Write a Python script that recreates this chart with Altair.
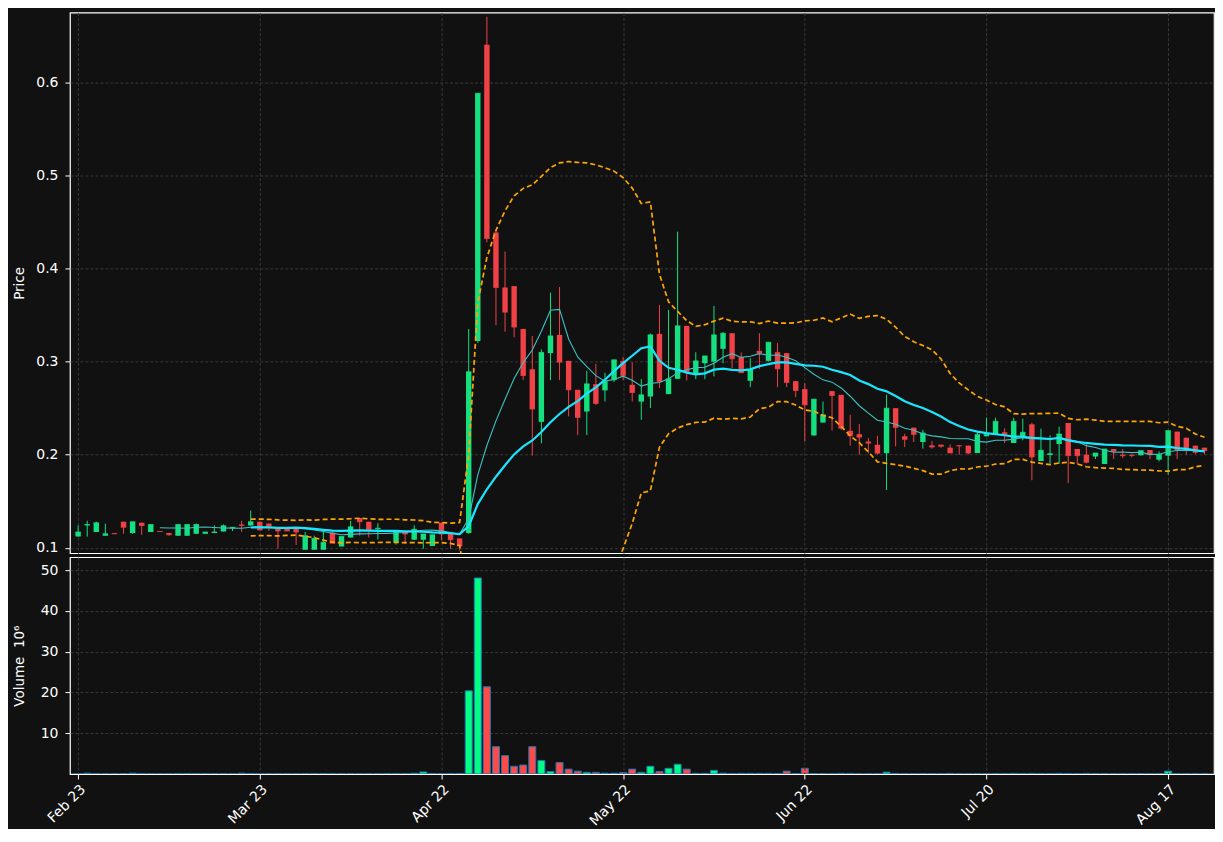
import altair as alt
import pandas as pd

# ---- data (price in $, volume in millions) ----
opens = [0.112, 0.124, 0.117, 0.113, 0.116, 0.128, 0.116, 0.127, 0.117, 0.118,
         0.116, 0.113, 0.113, 0.115, 0.115, 0.116, 0.1175, 0.121, 0.125, 0.124,
         0.128, 0.126, 0.121, 0.121, 0.121, 0.098, 0.098, 0.098, 0.1165, 0.1015,
         0.111, 0.132, 0.128, 0.120, 0.1175, 0.1057, 0.1175, 0.1086, 0.1086, 0.102,
         0.127, 0.1147, 0.110, 0.116, 0.322, 0.640, 0.4386, 0.3795, 0.381, 0.335,
         0.2917, 0.2352, 0.309, 0.3286, 0.3007, 0.2696, 0.2463, 0.2757, 0.269, 0.280,
         0.3007, 0.275, 0.257, 0.2624, 0.3297, 0.265, 0.2814, 0.3383, 0.2868, 0.2982,
         0.300, 0.3136, 0.3304, 0.3047, 0.2793, 0.3115, 0.3007, 0.310, 0.309, 0.2789,
         0.2703, 0.2206, 0.2345, 0.2682, 0.2642, 0.2256, 0.222, 0.2141, 0.2106, 0.2016,
         0.2499, 0.2197, 0.229, 0.2136, 0.210, 0.2107, 0.2075, 0.210, 0.2097, 0.2018,
         0.2197, 0.2218, 0.224, 0.2125, 0.219, 0.2326, 0.1932, 0.1996, 0.2114, 0.234,
         0.2061, 0.200, 0.1979, 0.190, 0.2061, 0.200, 0.200, 0.1993, 0.205, 0.1946,
         0.1989, 0.2247, 0.2182, 0.2097, 0.2075]
highs = [0.124, 0.129, 0.128, 0.126, 0.116, 0.128, 0.128, 0.127, 0.125, 0.118,
         0.116, 0.125, 0.125, 0.126, 0.117, 0.124, 0.125, 0.122, 0.129, 0.140,
         0.128, 0.126, 0.121, 0.121, 0.121, 0.117, 0.113, 0.119, 0.118, 0.112,
         0.129, 0.132, 0.128, 0.1265, 0.118, 0.118, 0.1175, 0.124, 0.1147, 0.114,
         0.127, 0.1147, 0.110, 0.335, 0.588, 0.670, 0.440, 0.418, 0.381, 0.335,
         0.3275, 0.313, 0.374, 0.380, 0.3007, 0.2696, 0.290, 0.2975, 0.288, 0.302,
         0.305, 0.299, 0.281, 0.330, 0.3608, 0.3555, 0.4395, 0.3383, 0.310, 0.306,
         0.3597, 0.3315, 0.3304, 0.3097, 0.3036, 0.3304, 0.3207, 0.3197, 0.309, 0.2789,
         0.2767, 0.2596, 0.257, 0.2682, 0.2642, 0.2428, 0.233, 0.2177, 0.2202, 0.2642,
         0.2499, 0.2225, 0.229, 0.2268, 0.2147, 0.2107, 0.211, 0.210, 0.2097, 0.2254,
         0.2397, 0.2397, 0.2283, 0.2397, 0.2386, 0.2343, 0.2279, 0.2208, 0.2301, 0.234,
         0.2061, 0.2114, 0.2018, 0.2061, 0.2061, 0.2061, 0.200, 0.2043, 0.205, 0.2036,
         0.2258, 0.2247, 0.2182, 0.2097, 0.2075]
lows = [0.112, 0.112, 0.117, 0.113, 0.115, 0.115, 0.115, 0.114, 0.117, 0.1175,
        0.113, 0.113, 0.113, 0.115, 0.115, 0.116, 0.1175, 0.118, 0.117, 0.124,
        0.119, 0.118, 0.099, 0.118, 0.103, 0.098, 0.098, 0.098, 0.105, 0.1015,
        0.111, 0.113, 0.111, 0.109, 0.117, 0.1035, 0.104, 0.1086, 0.099, 0.102,
        0.108, 0.099, 0.097, 0.115, 0.320, 0.428, 0.339, 0.332, 0.326, 0.280,
        0.199, 0.212, 0.280, 0.280, 0.241, 0.221, 0.221, 0.2535, 0.257, 0.278,
        0.280, 0.257, 0.2374, 0.250, 0.2714, 0.265, 0.2814, 0.2796, 0.281, 0.281,
        0.284, 0.298, 0.293, 0.288, 0.2725, 0.2918, 0.300, 0.2725, 0.2725, 0.2617,
        0.2141, 0.2206, 0.2345, 0.2259, 0.2267, 0.2095, 0.200, 0.2016, 0.200, 0.162,
        0.2088, 0.2082, 0.2136, 0.2064, 0.2064, 0.2075, 0.2018, 0.200, 0.200, 0.2018,
        0.2197, 0.2218, 0.2125, 0.2125, 0.2154, 0.1725, 0.1932, 0.1903, 0.190, 0.1696,
        0.190, 0.1907, 0.1953, 0.190, 0.1953, 0.1964, 0.1971, 0.1993, 0.1953, 0.1928,
        0.1785, 0.1953, 0.200, 0.2007, 0.200]
closes = [0.117, 0.125, 0.127, 0.115, 0.115, 0.122, 0.128, 0.124, 0.125, 0.1175,
          0.114, 0.125, 0.125, 0.125, 0.117, 0.117, 0.1236, 0.122, 0.124, 0.128,
          0.119, 0.1225, 0.118, 0.118, 0.117, 0.113, 0.110, 0.106, 0.105, 0.112,
          0.1225, 0.128, 0.119, 0.121, 0.1178, 0.118, 0.1147, 0.120, 0.1147, 0.114,
          0.1147, 0.1086, 0.102, 0.289, 0.588, 0.432, 0.3795, 0.353, 0.337, 0.285,
          0.249, 0.3098, 0.3275, 0.2993, 0.2696, 0.240, 0.276, 0.255, 0.2785, 0.3018,
          0.285, 0.2667, 0.2642, 0.3286, 0.2785, 0.2814, 0.3383, 0.2893, 0.3007, 0.306,
          0.3286, 0.3304, 0.3029, 0.288, 0.291, 0.309, 0.3207, 0.2921, 0.2775, 0.2689,
          0.2535, 0.2596, 0.2428, 0.2635, 0.2284, 0.2202, 0.2188, 0.2123, 0.2016, 0.2499,
          0.2292, 0.2165, 0.2218, 0.2233, 0.2082, 0.209, 0.2018, 0.2093, 0.2018, 0.2215,
          0.2218, 0.2358, 0.2218, 0.2358, 0.224, 0.1975, 0.2047, 0.201, 0.2222, 0.1989,
          0.1989, 0.1918, 0.2018, 0.2061, 0.2036, 0.1989, 0.199, 0.2043, 0.200, 0.200,
          0.2258, 0.205, 0.2043, 0.2025, 0.2043]
volumes = [0.05, 0.2, 0.05, 0.03, 0.02, 0.05, 0.2, 0.05, 0.05, 0.02,
           0.03, 0.05, 0.05, 0.05, 0.03, 0.03, 0.05, 0.03, 0.2, 0.1,
           0.08, 0.05, 0.05, 0.05, 0.05, 0.05, 0.05, 0.05, 0.05, 0.05,
           0.05, 0.05, 0.05, 0.05, 0.05, 0.05, 0.05, 0.2, 0.5, 0.1,
           0.1, 0.1, 0.1, 20.4, 48.1, 21.4, 6.7, 4.5, 1.9, 2.2,
           6.7, 3.3, 0.6, 2.8, 1.2, 0.7, 0.4, 0.4, 0.2, 0.2,
           0.35, 1.2, 0.4, 1.9, 0.6, 1.4, 2.4, 1.2, 0.15, 0.15,
           0.9, 0.2, 0.05, 0.15, 0.15, 0.15, 0.15, 0.05, 0.7, 0.1,
           1.4, 0.1, 0.05, 0.05, 0.15, 0.15, 0.05, 0.05, 0.05, 0.45,
           0.15, 0.05, 0.05, 0.05, 0.05, 0.05, 0.15, 0.05, 0.05, 0.05,
           0.05, 0.05, 0.05, 0.15, 0.05, 0.15, 0.05, 0.05, 0.15, 0.05,
           0.05, 0.15, 0.05, 0.05, 0.05, 0.05, 0.05, 0.05, 0.05, 0.05,
           0.7, 0.05, 0.05, 0.05, 0.05]
tick_pos = [0, 20, 40, 60, 80, 100, 120]
tick_labels = ["Feb 23", "Mar 23", "Apr 22", "May 22", "Jun 22", "Jul 20", "Aug 17"]

n = len(closes)
df = pd.DataFrame({
    "i": list(range(n)),
    "open": opens, "high": highs, "low": lows, "close": closes,
    "volume": volumes,
})
df["dir"] = ["up" if c >= o else "down" for o, c in zip(opens, closes)]
df["vdir"] = ["vup" if c >= o else "vdown" for o, c in zip(opens, closes)]

# ---- styling ----
BG = "#111111"
GRID = "#383838"
FONT = "DejaVu Sans"
UP, DOWN = "#14e07f", "#ef4146"
VUP, VDOWN = "#00ff80", "#ff4a4a"

label_expr = (
    "[" + ",".join(f"'{t}'" for t in tick_labels) + "]"
    + "[indexof([" + ",".join(str(p) for p in tick_pos) + "], datum.value)]"
)

x_scale = alt.Scale(domain=[-0.35, 124.5], nice=False, zero=False)
x_top = alt.X("i:Q", scale=x_scale, axis=alt.Axis(
    values=tick_pos, labels=False, ticks=False, domain=False, title=None,
    grid=True, gridColor=GRID, gridDash=[3, 2], gridWidth=1))
cand_color = alt.Color("dir:N", legend=None,
                       scale=alt.Scale(domain=["up", "down"], range=[UP, DOWN]))

price_scale = alt.Scale(domain=[0.0942, 0.6746], nice=False, zero=False)
y_price_axis = alt.Axis(values=[0.1, 0.2, 0.3, 0.4, 0.5, 0.6], format=".1f",
                        title="Price", titlePadding=9, grid=True, gridColor=GRID,
                        gridDash=[3, 2], domain=False, tickColor="white",
                        tickSize=5, labelPadding=7)

base = alt.Chart(df)

wicks = base.mark_rule(strokeWidth=1, clip=True).encode(
    x=x_top,
    y=alt.Y("low:Q", scale=price_scale, axis=y_price_axis),
    y2="high:Q",
    color=cand_color,
)
bodies = base.mark_bar(size=5.4, clip=True).encode(
    x="i:Q", y="open:Q", y2="close:Q", color=cand_color)
doji = base.mark_tick(orient="horizontal", size=5.4, thickness=1, clip=True).encode(
    x="i:Q", y="close:Q", color=cand_color)

ma10 = base.transform_window(
    window=[{"op": "mean", "field": "close", "as": "ma10"},
            {"op": "count", "as": "c10"}],
    frame=[-9, 0], sort=[{"field": "i"}],
).transform_filter("datum.c10 >= 10").mark_line(
    color="#3cc3c3", strokeWidth=1.1, clip=True).encode(x="i:Q", y="ma10:Q")

bb_base = base.transform_window(
    window=[{"op": "mean", "field": "close", "as": "ma20"},
            {"op": "stdevp", "field": "close", "as": "sd20"},
            {"op": "count", "as": "c20"}],
    frame=[-19, 0], sort=[{"field": "i"}],
).transform_filter("datum.c20 >= 20").transform_calculate(
    upper="datum.ma20 + 2 * datum.sd20",
    lower="datum.ma20 - 2 * datum.sd20",
)
ma20 = bb_base.mark_line(color="#19e6ff", strokeWidth=2.2, clip=True).encode(
    x="i:Q", y="ma20:Q")
bb_up = bb_base.mark_line(color="#ffa500", strokeWidth=1.7, strokeDash=[5, 3],
                          clip=True).encode(x="i:Q", y="upper:Q")
bb_lo = bb_base.mark_line(color="#ffa500", strokeWidth=1.7, strokeDash=[5, 3],
                          clip=True).encode(x="i:Q", y="lower:Q")

price = alt.layer(wicks, bodies, doji, ma10, ma20, bb_up, bb_lo).properties(
    width=1145, height=541)

vol = base.mark_bar(size=7, stroke="#1f77b4", strokeWidth=1, clip=True).encode(
    x=alt.X("i:Q", scale=x_scale, axis=alt.Axis(
        values=tick_pos, labelExpr=label_expr, labelAngle=315, title=None,
        grid=True, gridColor=GRID, gridDash=[3, 2], domain=True,
        domainColor="white", domainWidth=1.2, tickColor="white", tickSize=5,
        labelPadding=3, zindex=1)),
    y=alt.Y("volume:Q", scale=alt.Scale(domain=[0, 53.2], nice=False, zero=False),
            axis=alt.Axis(values=[10, 20, 30, 40, 50],
                          title="Volume\u00a0\u00a010\u2076",
                          titlePadding=13.5, grid=True, gridColor=GRID,
                          gridDash=[3, 2], domain=False, tickColor="white",
                          tickSize=5, labelPadding=7)),
    color=alt.Color("vdir:N", legend=None,
                    scale=alt.Scale(domain=["vup", "vdown"], range=[VUP, VDOWN])),
).properties(width=1145, height=217)

chart = alt.vconcat(price, vol, spacing=0).resolve_scale(
    color="independent"
).properties(
    background=BG,
    padding={"left": 4, "top": 3.3, "right": 0, "bottom": 0},
).configure_view(
    stroke="white", strokeWidth=1.2, fill=BG
).configure_axis(
    labelColor="white", titleColor="white", labelFont=FONT, titleFont=FONT,
    labelFontSize=14, titleFontSize=13.5, titleFontWeight="normal",
)

chart.save("out.html", embed_options={"renderer": "svg", "actions": False})
